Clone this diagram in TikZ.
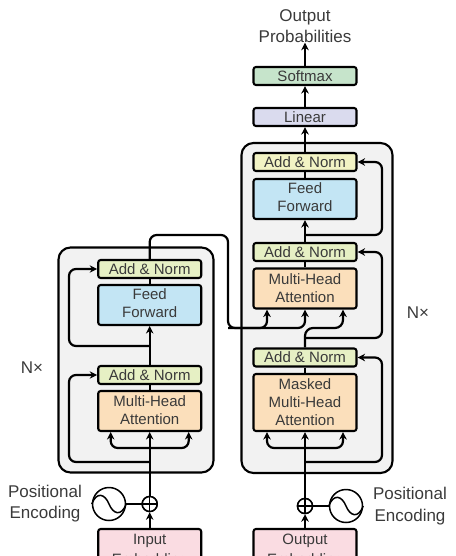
\documentclass[tikz,border=0pt]{standalone}
\usepackage{fontspec}
\setmainfont{Liberation Sans}
\usetikzlibrary{arrows.meta,calc}
\definecolor{txt}{HTML}{3A3A3A}
\definecolor{cadd}{HTML}{E6F0C4}
\definecolor{caddt}{HTML}{F2F3C4}
\definecolor{cff}{HTML}{C3E5F4}
\definecolor{cmha}{HTML}{FBDFBB}
\definecolor{csoft}{HTML}{C6E4CB}
\definecolor{clin}{HTML}{DADBEE}
\definecolor{cemb}{HTML}{FADCE2}
\definecolor{cbig}{HTML}{F2F2F2}
\tikzset{
 box/.style={draw=black,line width=2.1pt,rounded corners=2.5pt,minimum width=103pt,align=center,inner sep=0pt,text=txt,
   font=\fontsize{15}{18}\selectfont},
 h1/.style={box,minimum height=18pt},
 h2/.style={box,minimum height=40pt},
 h3/.style={box,minimum height=57pt},
 big/.style={draw=black,line width=2.1pt,fill=cbig,rounded corners=12pt,inner sep=0pt},
 lab/.style={align=center,text=txt,inner sep=0pt,font=\fontsize{17}{21}\selectfont},
 wire/.style={draw=black,line width=2.2pt,rounded corners=7pt},
 arr/.style={wire,-{Stealth[length=7.5pt,width=7.5pt]}},
 thinwire/.style={draw=black,line width=1.5pt},
 sinecirc/.style={circle,draw=black,line width=1.5pt,minimum size=33pt,inner sep=0pt},
 pluscirc/.style={circle,draw=black,line width=1.5pt,minimum size=15pt,inner sep=0pt},
}
\begin{document}
\begin{tikzpicture}[x=1pt,y=-1pt]
\useasboundingbox (0,0) rectangle (455,556);
\clip (0,0) rectangle (455,556);
% stacks
\node[big,minimum width=155pt,minimum height=225pt] (enc) at (136,360) {};
\node[big,minimum width=151pt,minimum height=330pt] (dec) at (317,308) {};
% encoder
\node[h1,fill=cadd] (ean2) at (149.7,269) {Add \& Norm};
\node[h2,fill=cff] (eff) at (149.7,305) {Feed\\Forward\vspace{3pt}};
\node[h1,fill=cadd] (ean1) at (149.7,375) {Add \& Norm};
\node[h2,fill=cmha] (emha) at (149.7,411) {Multi-Head\\Attention\vspace{1pt}};
\node[box,minimum height=44pt,fill=cemb] (iemb) at (149.7,551) {Input\\[2pt]Embedding};
\node[pluscirc] (ip) at (149.7,504) {};
\node[sinecirc] (is) at (109,504) {};
% decoder
\node[lab] (prob) at (305,26) {Output\\Probabilities};
\node[h1,fill=csoft] (soft) at (305,76) {Softmax};
\node[h1,fill=clin] (lin) at (305,117) {Linear};
\node[h1,fill=caddt] (dan3) at (305,162) {Add \& Norm};
\node[h2,fill=cff] (dff) at (305,199) {Feed\\Forward\vspace{3pt}};
\node[h1,fill=cadd] (dan2) at (305,252) {Add \& Norm};
\node[h2,fill=cmha] (dmha) at (305,288.5) {Multi-Head\\Attention};
\node[h1,fill=cadd] (dan1) at (305,357.5) {Add \& Norm};
\node[h3,fill=cmha] (dmm) at (305,402.5) {Masked\\Multi-Head\\Attention};
\node[box,minimum height=44pt,fill=cemb] (oemb) at (305,551) {Output\\[2pt]Embedding};
\node[pluscirc] (op) at (305,506) {};
\node[sinecirc] (os) at (346,506) {};
% labels
\node[lab] (ipe) at (45,503.5) {Positional\\Encoding};
\node[lab] (ope) at (410,506.5) {Positional\\[1pt]Encoding};
\node[lab] (enx) at (32,368) {N×};
\node[lab] (dnx) at (418,313) {N×};
% branch points
\coordinate (eb1) at (149.7,448);
\coordinate (eb2) at (149.7,462);
\coordinate (eb3) at (149.7,346);
\coordinate (db1) at (305,448);
\coordinate (db2) at (305,462);
\coordinate (db3) at (305,338);
\coordinate (db4) at (305,235);
\coordinate (cross) at (228,328);
% encoder wires
\draw[arr] (iemb.north) -- (ip.south);
\draw[arr] (ip.north) -- (emha.south);
\draw[wire] (emha.north) -- (ean1.south);
\draw[arr] (ean1.north) -- (eff.south);
\draw[wire] (eff.north) -- (ean2.south);
\draw[wire] (is.east) -- (ip.west);
\draw[arr] (eb1) -| ($(emha.south)+(-39,0)$);
\draw[arr] (eb1) -| ($(emha.south)+(39,0)$);
\draw[arr] (eb2) -- (69,462) |- (ean1.west);
\draw[arr] (eb3) -- (69,346) |- (ean2.west);
% encoder to decoder
\draw[arr] (ean2.north) |- (228,235) -- (cross) -| (dmha.south);
\draw[arr] (cross) -| ($(dmha.south)+(-38,0)$);
% decoder wires
\draw[arr] (oemb.north) -- (op.south);
\draw[arr] (op.north) -- (dmm.south);
\draw[wire] (dmm.north) -- (dan1.south);
\draw[wire] (os.west) -- (op.east);
\draw[arr] (db1) -| ($(dmm.south)+(-38,0)$);
\draw[arr] (db1) -| ($(dmm.south)+(38,0)$);
\draw[arr] (db2) -- (382,462) |- (dan1.east);
\draw[arr,rounded corners=8pt] (dan1.north) -- (305,328) -- (343,328) -- ($(dmha.south)+(38,0)$);
\draw[arr] (db3) -- (382,338) |- (dan2.east);
\draw[wire] (dmha.north) -- (dan2.south);
\draw[arr] (dan2.north) -- (dff.south);
\draw[arr] (db4) -- (382,235) |- (dan3.east);
\draw[wire] (dff.north) -- (dan3.south);
\draw[arr] (dan3.north) -- (lin.south);
\draw[arr] (lin.north) -- (soft.south);
\draw[arr] (soft.north) -- (prob.south);
% plus and sine glyphs
\foreach \c in {ip,op}{
 \fill[white] (\c) circle (7pt);
 \draw[thinwire] (\c.north) -- (\c.south);
 \draw[thinwire] (\c.west) -- (\c.east);
 \draw[thinwire] (\c) circle (7.5pt);
}
\foreach \c in {is,os}{
 \draw[thinwire] (\c.west) .. controls +(5,-13) and +(-4,-10) .. (\c.center) .. controls +(4,10) and +(-5,13) .. (\c.east);
}
\end{tikzpicture}
\end{document}
